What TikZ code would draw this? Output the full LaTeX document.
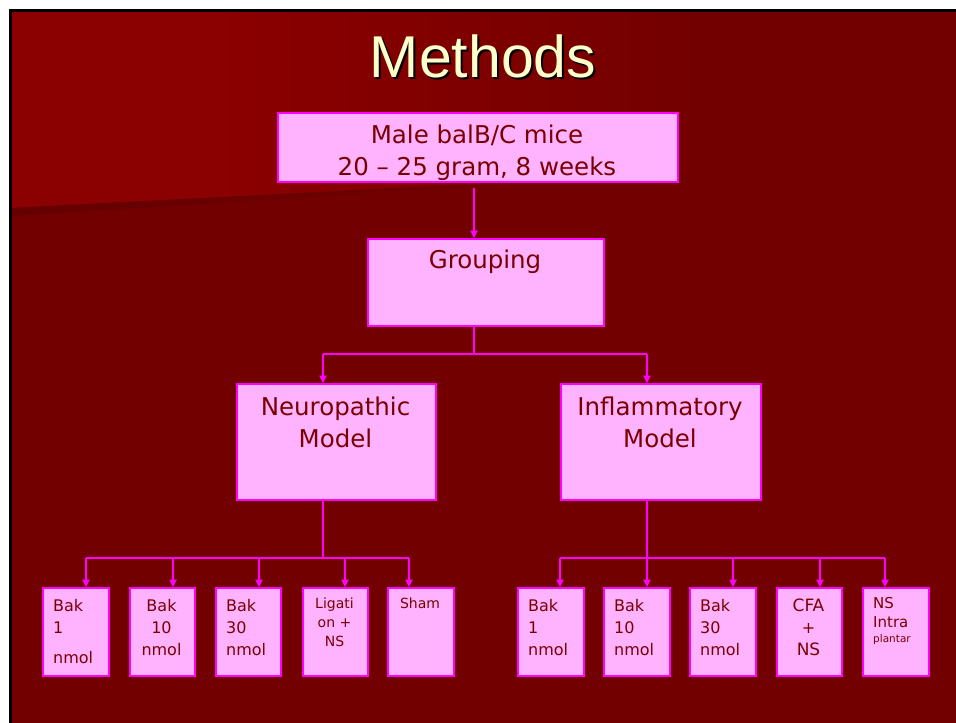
\documentclass[tikz,border=0pt]{standalone}
\usepackage{fontspec}
\setmainfont{DejaVu Sans}
\newfontfamily\titlefont{Liberation Sans}
\usetikzlibrary{arrows.meta}
\definecolor{bg}{HTML}{720000}
\definecolor{bright}{HTML}{8B0000}
\definecolor{shadowred}{HTML}{640000}
\definecolor{boxfill}{HTML}{FFB3FF}
\definecolor{mag}{HTML}{FF00FF}
\definecolor{txtred}{HTML}{7A0000}
\definecolor{cream}{HTML}{FFFFCC}
\begin{document}
\begin{tikzpicture}[x=1pt,y=-1pt,
  box/.style={draw=mag, fill=boxfill, line width=1.5pt, inner sep=0pt, anchor=north west},
  big/.style={text=txtred, inner sep=0pt, anchor=base, font=\fontsize{24.5}{28}\selectfont},
  sm/.style={text=txtred, inner sep=0pt, font=\fontsize{16}{18}\selectfont},
  xs/.style={text=txtred, inner sep=0pt, font=\fontsize{14}{16}\selectfont},
  conn/.style={draw=mag, line width=1.1pt},
  arr/.style={conn, -{Triangle[length=7.5pt,width=7.5pt]}}]
% background
\useasboundingbox (0,0) rectangle (956,723);
\fill[white] (0,0) rectangle (956,723);
\fill[bg] (10,10) rectangle (956,723);
\fill[bright] (12,12) -- (220,12) -- (220,197.2) -- (12,208) -- cycle;
\shade[left color=bright, right color=bg] (219.5,12) -- (720,12) -- (720,171.7) -- (219.5,197.2) -- cycle;
\shade[left color=shadowred, right color=bg] (12,208) -- (520,181.4) -- (520,184) -- (12,216) -- cycle;
\draw[black, line width=3pt] (10.5,723) -- (10.5,10.5) -- (956,10.5);
% title with shadow
\node[font=\titlefont\fontsize{59}{60}\selectfont, inner sep=0pt, anchor=base] (title) at (483,77)
  {\makebox[0pt][l]{\hspace{2pt}\raisebox{-2pt}{\color{black}Methods}}\color{cream}Methods};
% main boxes
\node[box, minimum width=400pt, minimum height=69pt] (top) at (277,112) {};
\node[big] (topt1) at (477,143) {Male balB/C mice};
\node[big] (topt2) at (477,175) {20 – 25 gram, 8 weeks};
\node[box, minimum width=236pt, minimum height=87pt] (grp) at (367,238) {};
\node[big] (grpt) at (485,268) {Grouping};
\node[box, minimum width=199pt, minimum height=116pt] (neu) at (236,383) {};
\node[big] (neut1) at (335.5,415) {Neuropathic};
\node[big] (neut2) at (335.5,447) {Model};
\node[box, minimum width=200pt, minimum height=116pt] (inf) at (560,383) {};
\node[big] (inft1) at (660,415) {Inflammatory};
\node[big] (inft2) at (660,447) {Model};
% left children
\node[box, minimum width=66pt, minimum height=88pt] (L1) at (42,587) {};
\node[box, minimum width=65pt, minimum height=88pt] (L2) at (129,587) {};
\node[box, minimum width=65pt, minimum height=88pt] (L3) at (215,587) {};
\node[box, minimum width=65pt, minimum height=88pt] (L4) at (302,587) {};
\node[box, minimum width=66pt, minimum height=88pt] (L5) at (387,587) {};
\node[sm, anchor=base west] (L1a) at (53,611) {Bak};
\node[sm, anchor=base west] (L1b) at (53,633) {1};
\node[sm, anchor=base west] (L1c) at (53,663) {nmol};
\node[sm, anchor=base] (L2a) at (161.5,611) {Bak};
\node[sm, anchor=base] (L2b) at (161.5,633) {10};
\node[sm, anchor=base] (L2c) at (161.5,655) {nmol};
\node[sm, anchor=base west] (L3a) at (226,611) {Bak};
\node[sm, anchor=base west] (L3b) at (226,633) {30};
\node[sm, anchor=base west] (L3c) at (226,655) {nmol};
\node[xs, anchor=base] (L4a) at (334.5,608) {Ligati};
\node[xs, anchor=base] (L4b) at (334.5,627) {on +};
\node[xs, anchor=base] (L4c) at (334.5,646) {NS};
\node[xs, anchor=base] (L5a) at (420,608) {Sham};
% right children
\node[box, minimum width=66pt, minimum height=88pt] (R1) at (517,587) {};
\node[box, minimum width=66pt, minimum height=88pt] (R2) at (603,587) {};
\node[box, minimum width=66pt, minimum height=88pt] (R3) at (689,587) {};
\node[box, minimum width=65pt, minimum height=88pt] (R4) at (776,587) {};
\node[box, minimum width=66pt, minimum height=88pt] (R5) at (862,587) {};
\node[sm, anchor=base west] (R1a) at (528,611) {Bak};
\node[sm, anchor=base west] (R1b) at (528,633) {1};
\node[sm, anchor=base west] (R1c) at (528,655) {nmol};
\node[sm, anchor=base west] (R2a) at (614,611) {Bak};
\node[sm, anchor=base west] (R2b) at (614,633) {10};
\node[sm, anchor=base west] (R2c) at (614,655) {nmol};
\node[sm, anchor=base west] (R3a) at (700,611) {Bak};
\node[sm, anchor=base west] (R3b) at (700,633) {30};
\node[sm, anchor=base west] (R3c) at (700,655) {nmol};
\node[sm, anchor=base, font=\fontsize{17}{19}\selectfont] (R4a) at (808.5,611) {CFA};
\node[sm, anchor=base] (R4b) at (808.5,633) {+};
\node[sm, anchor=base, font=\fontsize{17}{19}\selectfont] (R4c) at (808.5,655) {NS};
\node[sm, anchor=base west, font=\fontsize{15}{17}\selectfont] (R5a) at (873,608) {NS};
\node[sm, anchor=base west, font=\fontsize{15}{17}\selectfont] (R5b) at (873,627) {Intra};
\node[sm, anchor=base west, font=\fontsize{10.5}{12}\selectfont] (R5c) at (873,642) {plantar};
% connectors
\coordinate (a0) at (474,188);
\draw[arr] (a0) -- (a0 |- grp.north);
\coordinate (j0) at (474,354);
\coordinate (jl) at (323,354);
\coordinate (jr) at (647,354);
\draw[conn] (grp.south -| j0) -- (j0);
\draw[conn] (jl) -- (jr);
\draw[arr] (jl) -- (jl |- neu.north);
\draw[arr] (jr) -- (jr |- inf.north);
% neuropathic children
\coordinate (k0) at (323,558);
\coordinate (c1) at (86,558);
\coordinate (c2) at (173,558);
\coordinate (c3) at (259,558);
\coordinate (c4) at (345,558);
\coordinate (c5) at (409,558);
\draw[conn] (neu.south -| k0) -- (k0);
\draw[conn] (c1) -- (c5);
\draw[arr] (c1) -- (c1 |- L1.north);
\draw[arr] (c2) -- (c2 |- L2.north);
\draw[arr] (c3) -- (c3 |- L3.north);
\draw[arr] (c4) -- (c4 |- L4.north);
\draw[arr] (c5) -- (c5 |- L5.north);
% inflammatory children
\coordinate (m0) at (647,558);
\coordinate (d1) at (560,558);
\coordinate (d2) at (647,558);
\coordinate (d3) at (733,558);
\coordinate (d4) at (820,558);
\coordinate (d5) at (885,558);
\draw[conn] (inf.south -| m0) -- (m0);
\draw[conn] (d1) -- (d5);
\draw[arr] (d1) -- (d1 |- R1.north);
\draw[arr] (d2) -- (d2 |- R2.north);
\draw[arr] (d3) -- (d3 |- R3.north);
\draw[arr] (d4) -- (d4 |- R4.north);
\draw[arr] (d5) -- (d5 |- R5.north);
\end{tikzpicture}
\end{document}
